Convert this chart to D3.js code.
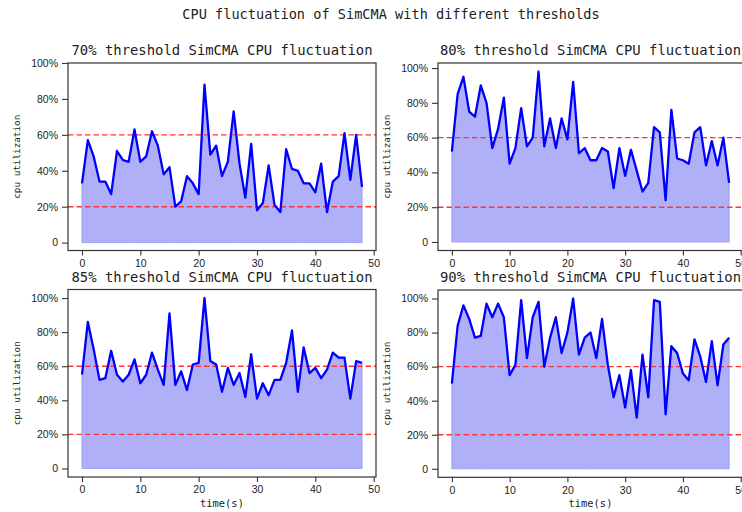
<!DOCTYPE html>
<html>
<head>
<meta charset="utf-8">
<script src="https://cdn.jsdelivr.net/npm/d3@7"></script>
<style>
  html, body { margin: 0; padding: 0; background: #fff; }
  svg { display: block; }
</style>
</head>
<body>
<svg id="chart" width="742" height="512"></svg>
<script>
// Time axis (seconds) shared by all four runs
const timeSteps = d3.range(0, 49);

// CPU utilization (%) for each threshold setting
const cpu70 = [33, 57, 48, 34, 34, 27, 51, 46, 45, 63, 45, 48, 62, 54, 38, 42, 20, 23, 37, 33,
  27, 88, 49, 54, 37, 45, 73, 44, 25, 55, 18, 22, 43, 21, 17, 52, 41, 40, 33, 33,
  28, 44, 17, 34, 37, 61, 35, 60, 31];
const cpu80 = [52, 85, 95, 75, 72, 90, 80, 54, 65, 83, 45, 54, 77, 55, 60, 98, 55, 71, 54, 71,
  59, 92, 51, 54, 47, 47, 54, 52, 31, 54, 38, 53, 41, 29, 34, 66, 63, 24, 76, 48,
  47, 45, 63, 66, 44, 58, 44, 60, 34];
const cpu85 = [55, 86, 70, 52, 53, 69, 55, 51, 55, 64, 50, 55, 68, 58, 49, 91, 49, 57, 46, 61,
  62, 100, 63, 61, 45, 59, 49, 56, 42, 67, 41, 50, 43, 52, 52, 62, 81, 45, 71, 56,
  59, 53, 58, 68, 65, 65, 41, 63, 62];
const cpu90 = [50, 84, 96, 88, 77, 78, 97, 89, 97, 89, 55, 61, 99, 65, 89, 98, 60, 77, 89, 68,
  80, 100, 67, 77, 80, 65, 88, 61, 42, 55, 36, 58, 30, 67, 42, 99, 98, 32, 72, 68,
  56, 52, 76, 66, 51, 75, 49, 73, 77];

const panelTitles = [
  "70% threshold SimCMA CPU fluctuation",
  "80% threshold SimCMA CPU fluctuation",
  "85% threshold SimCMA CPU fluctuation",
  "90% threshold SimCMA CPU fluctuation"
];
const seriesList = [cpu70, cpu80, cpu85, cpu90];

const yTickValues = [0, 20, 40, 60, 80, 100];
const xTickValues = [0, 10, 20, 30, 40, 50];
const thresholdLines = [60, 20];

const figureTitle = "CPU fluctuation of SimCMA with different thresholds";
const yLabelText = "cpu utilization";
const xLabelText = "time(s)";

// Axes boxes in pixels: [left, top, right, bottom]
const boxes = [
  [68, 63, 376, 250.5],
  [438, 63, 743, 250.5],
  [68, 289.5, 376, 477],
  [438, 290, 743, 477.3]
];

const monoFont = "'DejaVu Sans Mono', monospace";
const sansFont = "'Liberation Sans', Arial, sans-serif";
const inkColor = "#222";

const svg = d3.select("#chart");

svg.append("text")
  .attr("x", 391).attr("y", 18.5)
  .attr("text-anchor", "middle")
  .attr("font-family", monoFont)
  .attr("font-size", 13.6)
  .attr("fill", inkColor)
  .text(figureTitle);

seriesList.forEach((values, i) => {
  const [left, top, right, bottom] = boxes[i];
  const isBottomRow = i >= 2;

  // matplotlib-like autoscale with 5% margins, extended so tick 100 stays visible
  const xMin = d3.min(timeSteps), xMax = d3.max(timeSteps);
  const xPad = (xMax - xMin) * 0.05;
  const dMin = Math.min(0, d3.min(values)), dMax = d3.max(values);
  const yPad = (dMax - dMin) * 0.05;
  const yLo = dMin - yPad;
  const yHi = Math.max(dMax + yPad, d3.max(yTickValues));

  const x = d3.scaleLinear().domain([xMin - xPad, xMax + xPad]).range([left, right]);
  const y = d3.scaleLinear().domain([yLo, yHi]).range([bottom, top]);

  const g = svg.append("g");
  const clipId = "clip" + i;
  g.append("clipPath").attr("id", clipId)
    .append("rect")
    .attr("x", left).attr("y", top)
    .attr("width", right - left).attr("height", bottom - top);

  const plot = g.append("g").attr("clip-path", `url(#${clipId})`);

  const points = timeSteps.map((t, k) => ({ t, v: values[k] }));

  // shaded area under the utilization curve
  plot.append("path")
    .datum(points)
    .attr("d", d3.area().x(d => x(d.t)).y0(y(0)).y1(d => y(d.v)))
    .attr("fill", "#b0b0f9")
    .attr("stroke", "#9f9ff8")
    .attr("stroke-width", 1);

  // threshold guide lines
  plot.selectAll("line.threshold")
    .data(thresholdLines)
    .join("line")
    .attr("class", "threshold")
    .attr("x1", left).attr("x2", right)
    .attr("y1", d => y(d)).attr("y2", d => y(d))
    .attr("stroke", "#ff3535")
    .attr("stroke-width", 1.4)
    .attr("stroke-dasharray", "5.5,3");

  // utilization curve
  plot.append("path")
    .datum(points)
    .attr("d", d3.line().x(d => x(d.t)).y(d => y(d.v)))
    .attr("fill", "none")
    .attr("stroke", "#0000ff")
    .attr("stroke-width", 2.3)
    .attr("stroke-linejoin", "round");

  // frame
  g.append("rect")
    .attr("x", left).attr("y", top)
    .attr("width", right - left).attr("height", bottom - top)
    .attr("fill", "none")
    .attr("stroke", "#333")
    .attr("stroke-width", 1.2);

  // y axis
  const yAxis = d3.axisLeft(y)
    .tickValues(yTickValues)
    .tickSize(6)
    .tickPadding(4)
    .tickFormat(d => d === 0 ? "0" : d + "%");
  const yg = g.append("g").attr("transform", `translate(${left},0)`).call(yAxis);
  yg.select(".domain").remove();
  yg.selectAll(".tick line").attr("stroke", "#333").attr("stroke-width", 1.1);
  yg.selectAll(".tick text")
    .attr("font-family", sansFont)
    .attr("font-size", 10.5)
    .attr("fill", inkColor);

  // x axis
  const xAxis = d3.axisBottom(x)
    .tickValues(xTickValues)
    .tickSize(5)
    .tickPadding(4)
    .tickFormat(d3.format("d"));
  const xg = g.append("g").attr("transform", `translate(0,${bottom})`).call(xAxis);
  xg.select(".domain").remove();
  xg.selectAll(".tick line").attr("stroke", "#333").attr("stroke-width", 1.1);
  xg.selectAll(".tick text")
    .attr("font-family", sansFont)
    .attr("font-size", 10.5)
    .attr("fill", inkColor);

  // panel title
  g.append("text")
    .attr("x", (left + Math.min(right, 376 + (left - 68))) / 2)
    .attr("y", top - 8)
    .attr("text-anchor", "middle")
    .attr("font-family", monoFont)
    .attr("font-size", 13.9)
    .attr("fill", inkColor)
    .text(panelTitles[i]);

  // y label
  const yMid = (top + bottom) / 2;
  g.append("text")
    .attr("transform", `translate(${left - 48},${yMid}) rotate(-90)`)
    .attr("text-anchor", "middle")
    .attr("font-family", monoFont)
    .attr("font-size", 9.3)
    .attr("fill", inkColor)
    .text(yLabelText);

  // x label on the bottom row only
  if (isBottomRow) {
    g.append("text")
      .attr("x", (x(xMin - xPad) + x(xMax + xPad)) / 2)
      .attr("y", bottom + 30)
      .attr("text-anchor", "middle")
      .attr("font-family", monoFont)
      .attr("font-size", 10.4)
      .attr("fill", inkColor)
      .text(xLabelText);
  }
});
</script>
</body>
</html>
